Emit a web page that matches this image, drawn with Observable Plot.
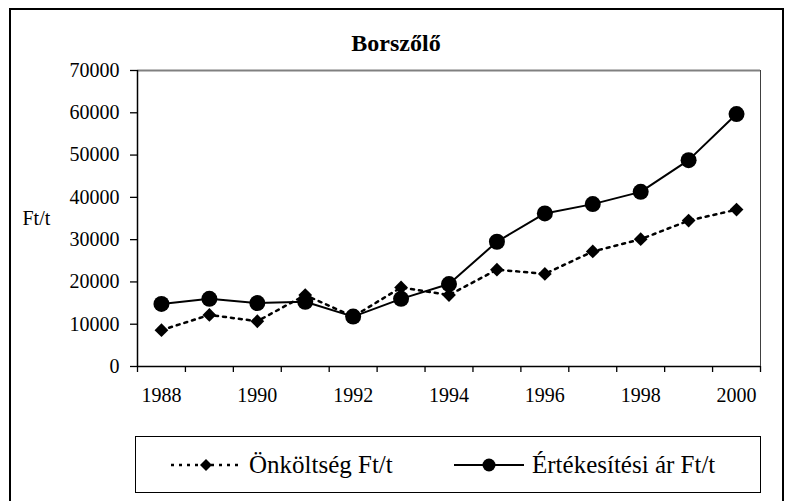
<!DOCTYPE html>
<html>
<head>
<meta charset="utf-8">
<script src="https://cdn.jsdelivr.net/npm/d3@7"></script>
<script src="https://cdn.jsdelivr.net/npm/@observablehq/plot@0.6"></script>
<style>
  html, body { margin: 0; padding: 0; background: #fff; }
  body { width: 792px; height: 501px; position: relative; overflow: hidden; font-family: "Liberation Serif", "Times New Roman", serif; color: #000; }
  #frame { position: absolute; left: 9px; top: 8px; width: 771px; height: 520px; border: 2px solid #000; }
  #chart { position: absolute; left: 0; top: 0; }
  #title { position: absolute; left: 0; top: 31px; width: 792px; text-align: center; font-weight: bold; font-size: 24px; line-height: 24px; }
  #legend { position: absolute; left: 135px; top: 436px; width: 626px; height: 57px; box-sizing: border-box; border: 1px solid #000; background: #fff; }
  .item { position: absolute; top: 0; height: 55px; display: flex; align-items: center; font-size: 25px; }
  .item svg { margin-right: 8px; }
</style>
</head>
<body>
<div id="frame"></div>
<div id="chart"></div>
<div id="title"></div>
<div id="legend"></div>
<script>
const chartTitle = "Borszőlő";
const yAxisLabel = "Ft/t";
const years = [1988, 1989, 1990, 1991, 1992, 1993, 1994, 1995, 1996, 1997, 1998, 1999, 2000];
const onkoltseg = [8600, 12200, 10700, 16900, 11800, 18700, 16900, 22900, 21900, 27200, 30100, 34500, 37100];
const ertekesitesi = [14800, 16000, 15000, 15300, 11800, 16000, 19500, 29500, 36200, 38400, 41300, 48800, 59700];
const yTicks = [0, 10000, 20000, 30000, 40000, 50000, 60000, 70000];
const xTickLabels = [1988, 1990, 1992, 1994, 1996, 1998, 2000];
const seriesNames = ["Önköltség Ft/t", "Értékesítési ár Ft/t"];

document.getElementById("title").textContent = chartTitle;

const s1 = years.map((year, i) => ({year, value: onkoltseg[i]}));
const s2 = years.map((year, i) => ({year, value: ertekesitesi[i]}));
const xMin = years[0] - 0.5, xMax = years[years.length - 1] + 0.5;
const bandEdges = years.map(y => y - 0.5).concat([xMax]);

const plot = Plot.plot({
  width: 792,
  height: 420,
  marginLeft: 137,
  marginRight: 32,
  marginTop: 70,
  marginBottom: 54,
  style: {fontFamily: '"Liberation Serif", "Times New Roman", serif', fontSize: "20px", color: "#000", background: "transparent", overflow: "visible"},
  x: {type: "linear", domain: [xMin, xMax]},
  y: {domain: [0, yTicks[yTicks.length - 1]]},
  marks: [
    Plot.ruleY([yTicks[yTicks.length - 1]], {stroke: "#808080", strokeWidth: 2}),
    Plot.ruleX([xMax], {stroke: "#404040", strokeWidth: 1}),
    Plot.axisY({ticks: yTicks, tickSize: 7, tickPadding: 11, tickFormat: d3.format("d"), label: null, stroke: "#000", strokeWidth: 1.3}),
    Plot.axisX({ticks: bandEdges, tickSize: 6, tickFormat: () => "", label: null, stroke: "#000", strokeWidth: 1.3}),
    Plot.axisX({ticks: xTickLabels, tickSize: 0, tickPadding: 21, tickFormat: d3.format("d"), label: null}),
    Plot.ruleX([xMin], {stroke: "#000", strokeWidth: 1.5}),
    Plot.ruleY([0], {stroke: "#000", strokeWidth: 1.5}),
    Plot.text([yAxisLabel], {frameAnchor: "left", textAnchor: "start", dx: -115, fontSize: 20, fill: "#000"}),
    Plot.line(s1, {x: "year", y: "value", stroke: "#000", strokeWidth: 2.5, strokeDasharray: "3,5"}),
    Plot.dot(s1, {x: "year", y: "value", symbol: "diamond2", r: 6.2, fill: "#000"}),
    Plot.line(s2, {x: "year", y: "value", stroke: "#000", strokeWidth: 2}),
    Plot.dot(s2, {x: "year", y: "value", symbol: "circle", r: 8, fill: "#000"})
  ]
});
document.getElementById("chart").appendChild(plot);

// Legend
const legend = document.getElementById("legend");
function swatch(kind) {
  const ns = "http://www.w3.org/2000/svg";
  const svg = document.createElementNS(ns, "svg");
  svg.setAttribute("width", 70); svg.setAttribute("height", 20);
  const line = document.createElementNS(ns, "line");
  line.setAttribute("x1", 0); line.setAttribute("x2", 70);
  line.setAttribute("y1", 10); line.setAttribute("y2", 10);
  line.setAttribute("stroke", "#000");
  if (kind === "diamond") {
    line.setAttribute("stroke-width", 2.5);
    line.setAttribute("stroke-dasharray", "3,5");
  } else {
    line.setAttribute("stroke-width", 2);
  }
  svg.appendChild(line);
  if (kind === "diamond") {
    const p = document.createElementNS(ns, "path");
    p.setAttribute("d", "M35,4L41,10L35,16L29,10Z");
    p.setAttribute("fill", "#000");
    svg.appendChild(p);
  } else {
    const c = document.createElementNS(ns, "circle");
    c.setAttribute("cx", 35); c.setAttribute("cy", 10); c.setAttribute("r", 6.5);
    c.setAttribute("fill", "#000");
    svg.appendChild(c);
  }
  return svg;
}
const lefts = [35, 318];
seriesNames.forEach((name, i) => {
  const d = document.createElement("div");
  d.className = "item";
  d.style.left = lefts[i] + "px";
  d.appendChild(swatch(i === 0 ? "diamond" : "circle"));
  const t = document.createElement("span");
  t.textContent = name;
  d.appendChild(t);
  legend.appendChild(d);
});
</script>
</body>
</html>
